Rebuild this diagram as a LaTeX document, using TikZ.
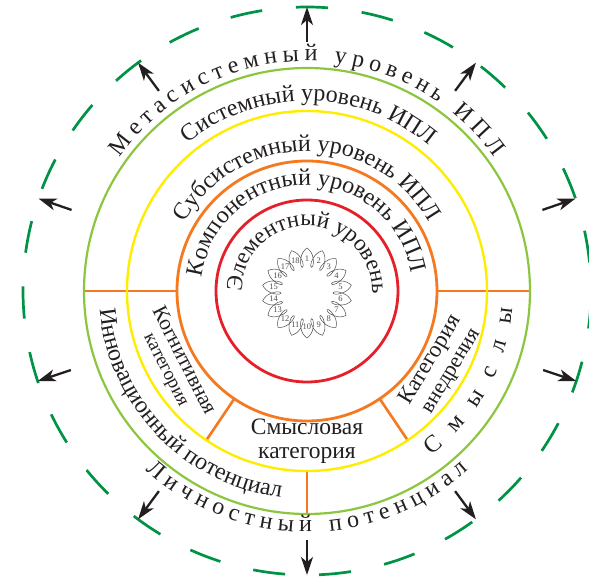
\documentclass[tikz,border=0pt]{standalone}
\usepackage{fontspec}
\setmainfont{Liberation Serif}
\usetikzlibrary{decorations.text,arrows.meta}
\definecolor{dgreen}{HTML}{009245}
\definecolor{lgreen}{HTML}{8CC63F}
\definecolor{ylw}{HTML}{FFED00}
\definecolor{orng}{HTML}{F47920}
\definecolor{rd}{HTML}{E5202A}
\definecolor{txt}{HTML}{231F20}
\definecolor{flw}{HTML}{4D4D4D}
\newcommand\ringfont{\fontsize{24}{28}\selectfont}
\newcommand\elemfont{\fontsize{23}{27}\selectfont}
\begin{document}
\begin{tikzpicture}[x=1pt,y=1pt,
  ringnode/.style={circle, inner sep=0pt, outer sep=0pt, minimum size=#1},
  divider/.style={orng, line width=2.6pt},
  outarrow/.style={txt, line width=2.3pt, -{Stealth[length=18pt,width=12pt,inset=5pt]}},
  dashseg/.style={dgreen, line width=2.7pt},
  numlabel/.style={font=\fontsize{8.5}{9}\selectfont, text=flw, inner sep=0pt},
  sectortext/.style={text=txt, inner sep=0pt}]
\useasboundingbox (-307,-285) rectangle (282,291);

% outer dashed circle
\foreach \k in {0,...,26}{
  \draw[dashseg] ({89+13.3333*\k-3.25}:284) arc[start angle={89+13.3333*\k-3.25}, delta angle=6.5, radius=284];
}

% dividers (drawn under the rings)
\node[ringnode=446pt] (sysA) at (0,0) {};
\node[ringnode=360pt] (subA) at (0,0) {};
\node[ringnode=260pt] (kompA) at (0,0) {};
\draw[divider] (kompA.180) -- (sysA.180);
\draw[divider] (kompA.0) -- (sysA.0);
\draw[divider] (kompA.-124) -- (subA.-124);
\draw[divider] (kompA.-56) -- (subA.-56);
\draw[divider] (subA.-90) -- (sysA.-90);

% rings
\node[ringnode=446pt, draw=lgreen, line width=2.2pt] (sys) at (0,0) {};
\node[ringnode=360pt, draw=ylw, line width=2.4pt] (sub) at (0,0) {};
\node[ringnode=260pt, draw=orng, line width=2.8pt] (komp) at (0,0) {};
\node[ringnode=182pt, draw=rd, line width=2.8pt] (elem) at (0,0) {};

% arrows
\foreach \a [count=\i] in {90,53.5,126.5,19,161,-18.5,-161.5,-53.5,-126.5,-90}{
  \coordinate (t\i) at (\a:249);
  \coordinate (h\i) at (\a:284);
  \draw[outarrow] (t\i) -- (h\i);
}

% flower of 18 petals
\begin{scope}[shift={(0,-2)}]
\draw[flw, line width=0.5pt] (78:31)
  \foreach \p in {90,110,...,430}{
    .. controls ({\p-9}:41) and ({\p-2.5}:43.5) .. (\p:45)
    .. controls ({\p+2.5}:43.5) and ({\p+9}:41) .. ({\p+12}:31)
    .. controls ({\p+15}:25) and ({\p+6}:24) .. ({\p+8}:31)
  } -- cycle;
\foreach \n in {1,...,18}{
  \node[numlabel] (n\n) at ({90-20*(\n-1)}:34) {\n};
}
\end{scope}

% ring texts (top, clockwise)
\path[decorate, decoration={text along path, text color=txt, text align={fit to path},
  text={|\ringfont|Метасистемный уровень ИПЛ}}]
  (144.5:230) arc[start angle=144.5, end angle=35.5, radius=230];
\path[decorate, decoration={text along path, text color=txt, text align=center,
  text={|\ringfont|Системный уровень ИПЛ}}]
  (170:190) arc[start angle=170, end angle=9, radius=190];
\path[decorate, decoration={text along path, text color=txt, text align=center,
  text={|\ringfont|Субсистемный уровень ИПЛ}}]
  (190:140) arc[start angle=190, end angle=-10, radius=140];
\path[decorate, decoration={text along path, text color=txt, text align=center,
  text={|\ringfont|Компонентный уровень ИПЛ}}]
  (221:106) arc[start angle=221, end angle=-39, radius=106];
\path[decorate, decoration={text along path, text color=txt, text align=center,
  text={|\elemfont|Элементный уровень}}]
  (249:65) arc[start angle=249, end angle=-71, radius=65];

% ring texts (bottom, counter-clockwise)
\path[decorate, decoration={text along path, text color=txt, text align={fit to path},
  text={|\ringfont|Личностный потенциал}}]
  (-132:241) arc[start angle=-132, end angle=-48, radius=241];
\path[decorate, decoration={text along path, text color=txt, text align=center,
  text={|\ringfont|Инновационный потенциал}}]
  (154:208) arc[start angle=154, end angle=294, radius=208];
\path[decorate, decoration={text along path, text color=txt, text align={fit to path},
  text={|\ringfont|Смыслы}}]
  (-53:206) arc[start angle=-53, end angle=-5, radius=206];

% sector texts
\node[sectortext, rotate=-63, font=\fontsize{21.5}{24}\selectfont] (kog1) at (-122,-69) {Когнитивная};
\node[sectortext, rotate=-63, font=\fontsize{19}{22}\selectfont] (kog2) at (-143,-80) {категория};
\node[sectortext, rotate=59, font=\fontsize{23}{24}\selectfont] (vn1) at (124,-69) {Категория};
\node[sectortext, rotate=59, font=\fontsize{21.5}{22}\selectfont] (vn2) at (146,-81) {внедрения};
\node[sectortext, align=center, font=\fontsize{23.5}{24}\selectfont] (sm) at (0,-150) {Смысловая\\категория};
\end{tikzpicture}
\end{document}
